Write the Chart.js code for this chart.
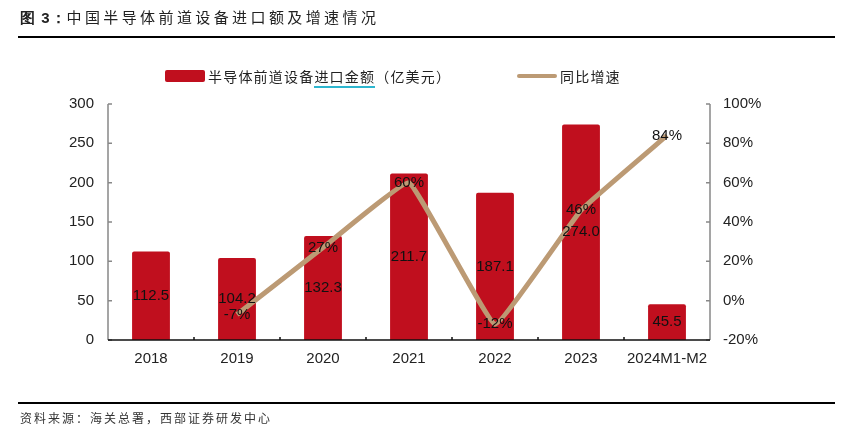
<!DOCTYPE html>
<html>
<head>
<meta charset="utf-8">
<script src="https://cdn.jsdelivr.net/npm/chart.js@4"></script>
<style>
  body { margin: 0; background: #fff; }
  #wrap { position: relative; width: 859px; height: 448px; font-family: "Noto Sans CJK SC", sans-serif; color: #222; }
  #chart { position: absolute; left: 0; top: 0; }
  .title { position: absolute; left: 20px; top: 6px; font-size: 15px; letter-spacing: 3.4px; }
  .title b { font-family: "Liberation Sans", Arial, sans-serif; letter-spacing: 1px; }
  .rule { position: absolute; left: 18px; width: 817px; height: 1.5px; background: #000; }
  .foot { position: absolute; left: 20px; top: 409px; font-size: 12px; letter-spacing: 2px; color: #333; }
  .lg { position: absolute; font-size: 14px; top: 66px; letter-spacing: 1.2px; }
  .lg u { text-decoration: none; border-bottom: 2px solid #2db6cf; }
</style>
</head>
<body>
<div id="wrap">
  <canvas id="chart" width="859" height="448"></canvas>
  <div class="title"><b>图 3：</b>中国半导体前道设备进口额及增速情况</div>
  <div class="rule" style="top:36px"></div>
  <div style="position:absolute;left:165px;top:70px;width:40px;height:12px;background:#c00f1e;border-radius:2px"></div>
  <div class="lg" style="left:208px">半导体前道设备<u>进口金额</u>（亿美元）</div>
  <div style="position:absolute;left:517px;top:74px;width:40px;height:4px;background:#bc9a74;border-radius:2px"></div>
  <div class="lg" style="left:560px">同比增速</div>
  <div class="rule" style="top:402px"></div>
  <div class="foot">资料来源：海关总署，西部证券研发中心</div>
</div>
<script>
const categories = ['2018', '2019', '2020', '2021', '2022', '2023', '2024M1-M2'];
const importValues = [112.5, 104.2, 132.3, 211.7, 187.1, 274.0, 45.5];
const growthRates = [null, -7, 27, 60, -12, 46, 84];

// value labels in the middle of bars and on line points
const labelPlugin = {
  id: 'labels',
  afterDatasetsDraw(chart) {
    const c = chart.ctx;
    c.save();
    c.font = '15px "Liberation Sans", Arial, sans-serif';
    c.fillStyle = '#111';
    c.textAlign = 'center';
    c.textBaseline = 'middle';
    chart.getDatasetMeta(1).data.forEach((bar, i) => {
      const p = bar.getProps(['x', 'y', 'base'], true);
      c.fillText(importValues[i].toFixed(1), p.x, (p.y + p.base) / 2);
    });
    chart.getDatasetMeta(0).data.forEach((pt, i) => {
      if (growthRates[i] === null) return;
      c.fillText(growthRates[i] + '%', pt.x, pt.y);
    });
    c.restore();
  }
};

// axis lines and short inward tick marks
const axisPlugin = {
  id: 'axes',
  afterDraw(chart) {
    const c = chart.ctx, a = chart.chartArea;
    const yl = chart.scales.y, yr = chart.scales.y1;
    c.save();
    c.lineWidth = 1.5;
    c.strokeStyle = '#888';
    c.beginPath();
    c.moveTo(a.left, a.top); c.lineTo(a.left, a.bottom);
    c.moveTo(a.right, a.top); c.lineTo(a.right, a.bottom);
    yl.ticks.forEach(t => { const y = yl.getPixelForValue(t.value); c.moveTo(a.left, y); c.lineTo(a.left + 4, y); });
    yr.ticks.forEach(t => { const y = yr.getPixelForValue(t.value); c.moveTo(a.right, y); c.lineTo(a.right - 4, y); });
    c.stroke();
    c.strokeStyle = '#111';
    c.beginPath();
    c.moveTo(a.left, a.bottom); c.lineTo(a.right, a.bottom);
    const step = (a.right - a.left) / categories.length;
    for (let i = 1; i < categories.length; i++) {
      const xx = a.left + step * i;
      c.moveTo(xx, a.bottom); c.lineTo(xx, a.bottom - 3);
    }
    c.stroke();
    c.restore();
  }
};

const tickFont = { family: '"Liberation Sans", Arial, sans-serif', size: 15 };

new Chart(document.getElementById('chart'), {
  data: {
    labels: categories,
    datasets: [{
      type: 'line',
      label: '同比增速',
      data: growthRates,
      yAxisID: 'y1',
      borderColor: '#bc9a74',
      borderWidth: 5,
      pointRadius: 0,
      tension: 0.08,
      order: 0
    }, {
      type: 'bar',
      label: '半导体前道设备进口金额（亿美元）',
      data: importValues,
      yAxisID: 'y',
      backgroundColor: '#c00f1e',
      barPercentage: 0.44,
      categoryPercentage: 1,
      borderRadius: 2,
      order: 1
    }]
  },
  options: {
    responsive: false,
    animation: false,
    layout: { padding: { top: 104, left: 0, right: 0, bottom: 0 } },
    plugins: { legend: { display: false }, tooltip: { enabled: false } },
    scales: {
      x: {
        grid: { display: false, drawTicks: false },
        border: { display: false },
        ticks: { color: '#222', font: tickFont, padding: 10, maxRotation: 0, minRotation: 0, autoSkip: false },
        afterFit(s) { s.height = 108; }
      },
      y: {
        position: 'left',
        min: 0, max: 300,
        grid: { display: false, drawTicks: false },
        border: { display: false },
        ticks: { stepSize: 50, color: '#222', font: tickFont, padding: 14 },
        afterFit(s) { s.width = 108; }
      },
      y1: {
        position: 'right',
        min: -20, max: 100,
        grid: { display: false, drawTicks: false },
        border: { display: false },
        ticks: { stepSize: 20, color: '#222', font: tickFont, padding: 13, callback: v => v + '%' },
        afterFit(s) { s.width = 149; }
      }
    }
  },
  plugins: [labelPlugin, axisPlugin]
});
</script>
</body>
</html>
